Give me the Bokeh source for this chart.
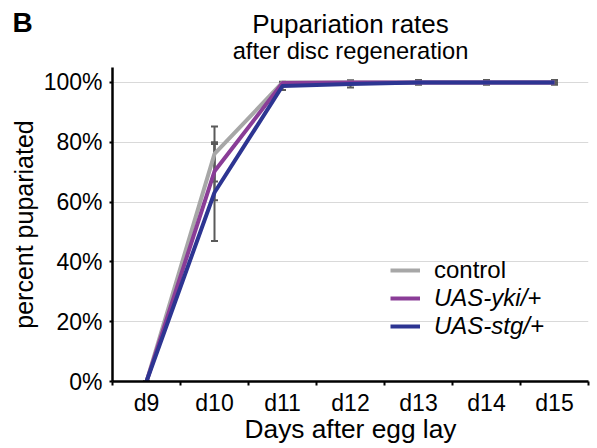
import numpy as np
from bokeh.plotting import figure
from bokeh.layouts import column
from bokeh.models import (Range1d, FixedTicker, PrintfTickFormatter, ColumnDataSource,
                          Whisker, TeeHead, Legend, LegendItem, Label)
from bokeh.embed import file_html
from bokeh.resources import INLINE

# ---- data ----
days = ["d9", "d10", "d11", "d12", "d13", "d14", "d15"]
control = [0, 76.1, 100, 100, 100, 100, 100]
control_err = [0, 9.2, 0, 0, 0, 0, 0]
yki = [0, 70.3, 99.8, 100, 100, 100, 100]
yki_err = [0, 9.7, 0.4, 0, 0, 0, 0]
stg = [0, 63.2, 98.8, 99.5, 100, 100, 100]
stg_err = [0, 16.2, 1.3, 1.2, 0.8, 0.8, 0.8]
y_ticks = [0, 20, 40, 60, 80, 100]

FONT = "Liberation Sans"
xs = np.arange(len(days)) + 0.5

# ---- header (panel letter, title, subtitle) ----
HEAD_H = 67
SHIFT = 8
header = figure(width=597, height=HEAD_H, output_backend="svg", toolbar_location=None,
                x_axis_type=None, y_axis_type=None, min_border=0,
                x_range=Range1d(0, 597), y_range=Range1d(0, HEAD_H))
header.frame_align = False
header.outline_line_color = None
header.xgrid.visible = False
header.ygrid.visible = False
header.add_layout(Label(x=350, y=HEAD_H - 31 + SHIFT, x_units="screen", y_units="screen",
                        text="Pupariation rates", text_align="center",
                        text_baseline="alphabetic", text_font=FONT,
                        text_font_size="26px", text_color="black"))
header.add_layout(Label(x=350, y=HEAD_H - 58 + SHIFT, x_units="screen", y_units="screen",
                        text="after disc regeneration", text_align="center",
                        text_baseline="alphabetic", text_font=FONT,
                        text_font_size="23.7px", text_color="black"))
header.add_layout(Label(x=12, y=HEAD_H - 30 + SHIFT, x_units="screen", y_units="screen",
                        text="B", text_align="left", text_baseline="alphabetic",
                        text_font=FONT, text_font_size="28px", text_font_style="bold",
                        text_color="black"))

# ---- main chart ----
p = figure(width=597, height=448 - HEAD_H, output_backend="svg", toolbar_location=None,
           x_range=Range1d(0, len(days)), y_range=Range1d(0, 105),
           min_border_left=112, min_border_top=0, min_border_bottom=67,
           min_border_right=9)
p.frame_align = False
p.outline_line_color = None
p.background_fill_color = "white"
p.border_fill_color = "white"

# x axis: labels at centers, ticks at category boundaries
p.xaxis.ticker = FixedTicker(ticks=list(xs), minor_ticks=list(range(len(days) + 1)))
p.xaxis.major_label_overrides = {float(x): d for x, d in zip(xs, days)}
p.xaxis.major_tick_line_color = None
p.xaxis.minor_tick_out = 4
p.xaxis.minor_tick_in = 0
p.xaxis.minor_tick_line_width = 2
p.xaxis.minor_tick_line_color = "black"
p.xaxis.axis_label = "Days after egg lay"
p.xaxis.major_label_standoff = 2
p.xaxis.axis_label_standoff = -5

p.yaxis.ticker = FixedTicker(ticks=y_ticks)
p.yaxis.formatter = PrintfTickFormatter(format="%d%%")
p.yaxis.major_tick_out = 3
p.yaxis.major_tick_in = 0
p.yaxis.major_tick_line_width = 2
p.yaxis.minor_tick_line_color = None
p.yaxis.axis_label = "percent pupariated"
p.yaxis.major_label_standoff = 7
p.yaxis.axis_label_standoff = 3

for ax in (p.xaxis, p.yaxis):
    ax.axis_line_width = 2.5
    ax.axis_line_color = "black"
    ax.major_label_text_font = FONT
    ax.major_label_text_font_size = "23px"
    ax.major_label_text_color = "black"
    ax.axis_label_text_font = FONT
    ax.axis_label_text_font_style = "normal"
    ax.axis_label_text_color = "black"
p.xaxis.axis_label_text_font_size = "26.3px"
p.yaxis.axis_label_text_font_size = "25px"

p.xgrid.grid_line_color = None
p.ygrid.ticker = FixedTicker(ticks=y_ticks)
p.ygrid.grid_line_color = "#d9d9d9"
p.ygrid.grid_line_width = 1

# ---- series ----
series = [("control", control, control_err, "#a7a7a7"),
          ("UAS-yki/+", yki, yki_err, "#8a3d97"),
          ("UAS-stg/+", stg, stg_err, "#2d3592")]
renderers = {}
for name, vals, errs, color in series:
    r = p.line(xs, vals, line_color=color, line_width=4, line_join="round")
    renderers[name] = r

for name, vals, errs, color in series:
    v = np.array(vals, dtype=float)
    e = np.array(errs, dtype=float)
    src = ColumnDataSource(dict(x=xs, upper=v + e, lower=v - e))
    w = Whisker(source=src, base="x", upper="upper", lower="lower",
                line_color="#5a5a5a", line_width=2,
                upper_head=TeeHead(size=7, line_color="#5a5a5a", line_width=2),
                lower_head=TeeHead(size=7, line_color="#5a5a5a", line_width=2))
    p.add_layout(w)

# ---- legends (control upright, transgenes italic) ----
leg_common = dict(padding=0, margin=0, spacing=0, glyph_width=30, glyph_height=28,
                  label_height=28, label_standoff=14, border_line_color=None,
                  background_fill_alpha=0, label_text_font=FONT,
                  label_text_font_size="24px", label_text_color="black")
leg1 = Legend(items=[LegendItem(label="control", renderers=[renderers["control"]])],
              location=(278, 97), label_text_font_style="normal", **leg_common)
leg2 = Legend(items=[LegendItem(label="UAS-yki/+", renderers=[renderers["UAS-yki/+"]]),
                     LegendItem(label="UAS-stg/+", renderers=[renderers["UAS-stg/+"]])],
              location=(278, 41), label_text_font_style="italic", **leg_common)
p.add_layout(leg1, "center")
p.add_layout(leg2, "center")

layout = column(header, p, spacing=0)
open("out.html", "w").write(file_html(layout, INLINE))
